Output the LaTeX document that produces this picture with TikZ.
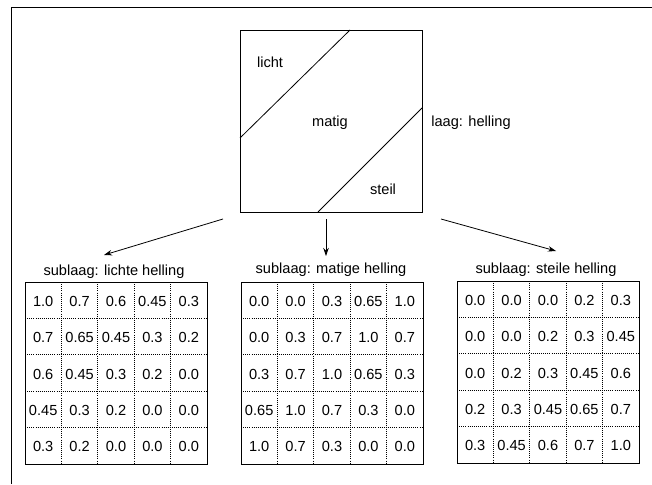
\documentclass[tikz,border=0pt]{standalone}
\usepackage{fontspec}
\setmainfont{Liberation Sans}
\usetikzlibrary{arrows.meta}

% one 5x5 grid of membership values: name, left, top, rows
\newcommand\slopegrid[4]{%
  \foreach \row [count=\r] in {#4} {
    \foreach \v [count=\c] in \row {
      \node[cellnum] (#1-\r-\c) at ({#2+(\c-0.5)*36.4},{#3+(\r-0.5)*36.4+1}) {\v};
    }
  }
  \foreach \k in {1,...,4} {
    \draw[gridline] ({#2+\k*36.4},#3) -- ++(0,182);
    \draw[gridline] (#2,{#3+\k*36.4}) -- ++(182,0);
  }
  \draw[edge] (#2,#3) rectangle ++(182,182);
}

\begin{document}
\begin{tikzpicture}[x=1pt,y=-1pt,
  txt/.style={font=\fontsize{14.6}{17}\selectfont, inner sep=0pt},
  cellnum/.style={txt, anchor=center},
  edge/.style={line width=0.9pt},
  gridline/.style={line width=0.8pt, dash pattern=on 0.8pt off 1.3pt},
  link/.style={line width=0.8pt, -{Stealth[length=8pt,width=5.5pt]}},
  mapbox/.style={draw, line width=0.9pt, minimum width=182pt, minimum height=182pt, inner sep=0pt}]
  \useasboundingbox (0,0) rectangle (652,484);

  % open frame: top and left edges only
  \draw[line width=0.9pt] (11,484) -- (11,7) -- (652,7);

  % the slope layer map with its three zones
  \node[mapbox] (map) at (331,121) {};
  \draw[line width=0.8pt] (240,138) -- (350,30);
  \draw[line width=0.8pt] (318,212) -- (422,108);
  \node[txt, anchor=base] (licht) at (270,68) {licht};
  \node[txt, anchor=base] (matig) at (330,126) {matig};
  \node[txt, anchor=base] (steil) at (383,194) {steil};
  \node[txt, anchor=base] (layer) at (471,126) {laag: helling};

  % sublayer titles
  \node[txt, anchor=base] (tl) at (114,275) {sublaag: lichte helling};
  \node[txt, anchor=base] (tm) at (331,273) {sublaag: matige helling};
  \node[txt, anchor=base] (ts) at (546,273) {sublaag: steile helling};

  % arrows from the map to the sublayers
  \coordinate (sl) at (223,219);
  \coordinate (el) at (104,255);
  \coordinate (sm) at (326,219);
  \coordinate (em) at (326,256);
  \coordinate (sr) at (441,219);
  \coordinate (er) at (556,251);
  \draw[link] (sl) -- (el);
  \draw[link] (sm) -- (em);
  \draw[link] (sr) -- (er);

  % membership grids
  \slopegrid{L}{25}{282}{{1.0,0.7,0.6,0.45,0.3},{0.7,0.65,0.45,0.3,0.2},{0.6,0.45,0.3,0.2,0.0},{0.45,0.3,0.2,0.0,0.0},{0.3,0.2,0.0,0.0,0.0}}
  \slopegrid{M}{241}{282}{{0.0,0.0,0.3,0.65,1.0},{0.0,0.3,0.7,1.0,0.7},{0.3,0.7,1.0,0.65,0.3},{0.65,1.0,0.7,0.3,0.0},{1.0,0.7,0.3,0.0,0.0}}
  \slopegrid{S}{457}{281}{{0.0,0.0,0.0,0.2,0.3},{0.0,0.0,0.2,0.3,0.45},{0.0,0.2,0.3,0.45,0.6},{0.2,0.3,0.45,0.65,0.7},{0.3,0.45,0.6,0.7,1.0}}
\end{tikzpicture}
\end{document}
